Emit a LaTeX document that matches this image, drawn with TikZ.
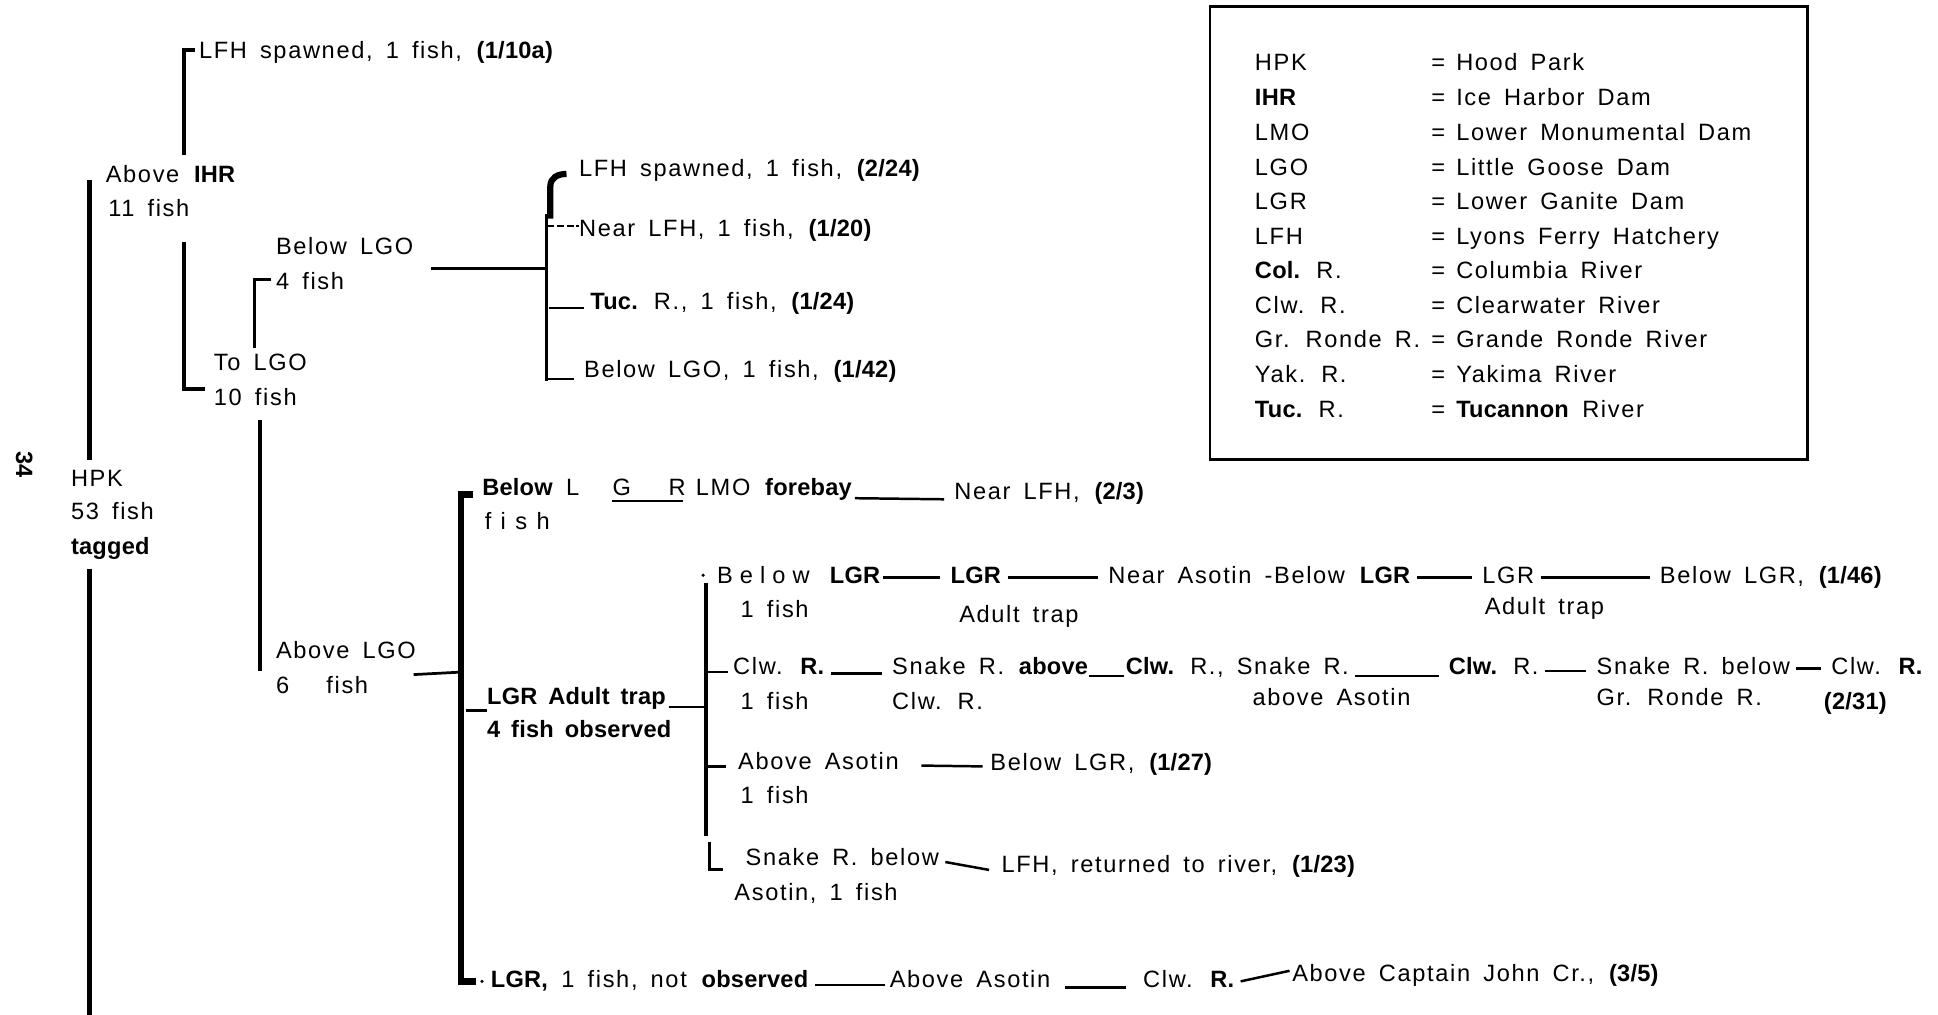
\documentclass[tikz,border=0pt]{standalone}
\usepackage{fontspec}
\setmainfont{Liberation Sans}[LetterSpace=7, WordSpace=1.6, BoldFeatures={LetterSpace=1}]
\begin{document}
\begin{tikzpicture}[x=1pt,y=-1pt,
  t/.style={anchor=west, inner sep=0pt, text height=14pt, text depth=4pt, font=\fontsize{19}{22}\selectfont},
  bar/.style={line width=3.5pt, line join=miter},
  tick/.style={line width=2.2pt},
  lk/.style={line width=2pt, shorten <=5pt, shorten >=8pt}]
\useasboundingbox (0,0) rectangle (1560,817);
% page number
\node[t, anchor=center, rotate=-90] (page) at (18,374) {\textbf{34}};
% root
\node[t] (hpk) at (57,387) {HPK};
\node[t] (hpkB) at (57,413) {53 fish};
\node[t] (hpkC) at (57,441) {\textbf{tagged}};
\node[t] (aihr) at (85,142) {Above \textbf{IHR}};
\node[t] (aihrB) at (87,169) {11 fish};
\node[t] (lfhA) at (160,42) {LFH spawned, 1 fish, \textbf{(1/10a)}};
\node[t] (tolgo) at (172,293) {To LGO};
\node[t] (tolgoB) at (172,321) {10 fish};
\node[t] (blgo) at (222,200) {Below LGO};
\node[t] (blgoB) at (222,228) {4 fish};
\node[t] (lfhB) at (466,137) {LFH spawned, 1 fish, \textbf{(2/24)}};
\node[t] (nlfh) at (466,185) {Near LFH, 1 fish, \textbf{(1/20)}};
\node[t] (tuc) at (475,244) {\textbf{Tuc.} R., 1 fish, \textbf{(1/24)}};
\node[t] (blgoC) at (470,299) {Below LGO, 1 fish, \textbf{(1/42)}};
\node[t] (algo) at (222,525) {Above LGO};
\node[t] (algoB) at (222,553) {6\hspace{30pt}fish};
% trunk lines
\coordinate (v0a) at (72,145); \coordinate (v0b) at (72,370);
\coordinate (v0c) at (72,458); \coordinate (v0d) at (72,817);
\draw[bar] (v0a) -- (v0b);
\draw[bar] (v0c) -- (v0d);
\coordinate (h1a) at (157,40); \coordinate (h1b) at (148,40); \coordinate (h1c) at (148,125);
\draw[bar] (h1a) -- (h1b) -- (h1c);
\coordinate (h2a) at (148,195); \coordinate (h2b) at (148,313); \coordinate (h2c) at (165,313);
\draw[bar] (h2a) -- (h2b) -- (h2c);
\coordinate (h3a) at (218,225); \coordinate (h3b) at (205,225); \coordinate (h3c) at (205,280);
\draw[bar, line width=2.6pt] (h3a) -- (h3b) -- (h3c);
\coordinate (br1) at (440,216);
\draw[tick] (347,216) -- (br1);
\coordinate (v1a) at (440,172); \coordinate (v1b) at (440,307);
\draw[bar, line width=3pt] (v1a) -- (v1b);
\coordinate (r1a) at (443,176); \coordinate (r1b) at (443,150); \coordinate (r1c) at (456,140);
\draw[line width=5pt] (r1a) -- (r1b) .. controls (443,143) and (449,140) .. (r1c);
\coordinate (tk1) at (440,182); \coordinate (tk2) at (442,248); \coordinate (tk3) at (440,305);
\draw[line width=2pt, dash pattern=on 6pt off 2pt] (tk1) -- (tk1 -| nlfh.west);
\draw[tick] (tk2) -- ([xshift=-5pt]tk2 -| tuc.west);
\draw[tick] (tk3) -- ([xshift=-8pt]tk3 -| blgoC.west);
\coordinate (v2a) at (209,338); \coordinate (v2b) at (209,540);
\draw[bar, line width=3pt] (v2a) -- (v2b);
\coordinate (j1) at (371,541);
\draw[tick] (333,543) -- (j1);
% main bracket from Above LGO
\coordinate (m1) at (381,398); \coordinate (m2) at (371,398); \coordinate (m3) at (371,790); \coordinate (m4) at (383,790);
\draw[line width=5pt] (m1) -- (m2) -- (m3) -- (m4);
\fill (388,790) circle (1.4pt);
% Below LGR LMO forebay
\node[t] (bla) at (388,394) {\textbf{Below} L};
\node[t] (blg) at (493,394) {G};
\node[t] (blr) at (538,394) {R};
\draw[line width=1.8pt] (493,403) -- (550,403);
\node[t] (blm) at (560,394) {LMO \textbf{forebay}};
\node[t] (blb) at (390,421) {\addfontfeature{LetterSpace=40}fish};
\node[t] (nlfh2) at (768,397) {Near LFH, \textbf{(2/3)}};
\draw[lk, shorten <=2pt] ([yshift=-7pt]blm.east) -- ([yshift=-5pt]nlfh2.west);
% LGR adult trap
\node[t] (lat) at (392,562) {\textbf{LGR Adult trap}};
\node[t] (latB) at (392,589) {\textbf{4 fish observed}};
\draw[tick] (375,572) -- (lat.west |- 0,572);
\coordinate (j2) at (568,569);
\draw[tick] ([xshift=2pt]lat.east |- j2) -- (j2);
\draw[bar, line width=3pt] (568,469) -- (568,673);
\draw[line width=3pt] (571,678) -- (571,700) -- (582,700);
\fill (566,463) circle (1.4pt);
% row 1
\node[t] (ra) at (577,465) {{\addfontfeature{LetterSpace=30}Below} \textbf{LGR}};
\node[t] (raB) at (596,492) {1 fish};
\node[t] (rb) at (765,465) {\textbf{LGR}};
\node[t] (rbB) at (772,496) {Adult trap};
\node[t] (rc) at (892,465) {Near Asotin -Below \textbf{LGR}};
\node[t] (rd) at (1193,465) {LGR};
\node[t] (rdB) at (1195,490) {Adult trap};
\node[t] (re) at (1336,465) {Below LGR, \textbf{(1/46)}};
\draw[lk, shorten <=2pt] (ra.east) -- (rb.west);
\draw[lk] (rb.east) -- (rc.west);
\draw[lk] (rc.east) -- (rd.west);
\draw[lk] (rd.east) -- (re.west);
% row 2
\draw[tick] (568,541) -- (586,541);
\node[t] (ca) at (590,538) {Clw. \textbf{R.}};
\node[t] (caB) at (596,566) {1 fish};
\node[t] (cb) at (718,538) {Snake R. \textbf{above}};
\node[t] (cbB) at (718,566) {Clw. R.};
\node[t] (cc) at (906,538) {\textbf{Clw.} R., Snake R.};
\node[t] (ccB) at (1008,563) {above Asotin};
\node[t] (cd) at (1166,538) {\textbf{Clw.} R.};
\node[t] (ce) at (1285,538) {Snake R. below};
\node[t] (ceB) at (1285,563) {Gr. Ronde R.};
\node[t] (cf) at (1474,538) {Clw. \textbf{R.}};
\node[t] (cfB) at (1468,566) {\textbf{(2/31)}};
\draw[lk] ([yshift=-4pt]ca.east) -- ([yshift=-4pt]cb.west);
\draw[lk, shorten <=0pt, shorten >=1pt] ([yshift=-6pt]cb.east) -- ([yshift=-6pt]cc.west);
\draw[lk] ([yshift=-6pt]cc.east) -- ([yshift=-6pt]cd.west);
\draw[lk] ([yshift=-2pt]cd.east) -- ([yshift=-2pt]ce.west);
\draw[lk] (ce.east) -- (cf.west);
% row 3
\draw[tick] (568,617) -- (584,617);
\node[t] (aa) at (594,614) {Above Asotin};
\node[t] (aaB) at (596,642) {1 fish};
\node[t] (ab) at (797,615) {Below LGR, \textbf{(1/27)}};
\draw[lk, shorten <=18pt, shorten >=6pt] ([yshift=-2pt]aa.east) -- ([yshift=-2pt]ab.west);
% row 4
\node[t] (sa) at (600,692) {Snake R. below};
\node[t] (saB) at (591,720) {Asotin, 1 fish};
\node[t] (sb) at (806,697) {LFH, returned to river, \textbf{(1/23)}};
\draw[lk, shorten >=10pt] ([yshift=-1pt]sa.east) -- ([yshift=-5pt]sb.west);
% bottom row
\node[t] (ba) at (395,790) {\textbf{LGR,} 1 fish, not \textbf{observed}};
\node[t] (bb) at (716,790) {Above Asotin};
\node[t] (bc) at (920,790) {Clw. \textbf{R.}};
\node[t] (bd) at (1040,785) {Above Captain John Cr., \textbf{(3/5)}};
\draw[lk, shorten >=4pt] ([yshift=-3pt]ba.east) -- ([yshift=-3pt]bb.west);
\draw[lk, shorten <=12pt, shorten >=14pt] ([yshift=-5pt]bb.east) -- ([yshift=-5pt]bc.west);
\draw[lk, shorten >=2pt] ([yshift=-1pt]bc.east) -- ([yshift=4pt]bd.west);
% legend
\coordinate (L1) at (974,5); \coordinate (L2) at (1455,370);
\draw[line width=2.2pt] (L1) rectangle (L2);
\foreach \y/\a/\b [count=\i] in {
  52/HPK/Hood Park,
  80/\textbf{IHR}/Ice Harbor Dam,
  108/LMO/Lower Monumental Dam,
  136/LGO/Little Goose Dam,
  164/LGR/Lower Ganite Dam,
  192/LFH/Lyons Ferry Hatchery,
  219/\textbf{Col.} R./Columbia River,
  247/Clw. R./Clearwater River,
  275/Gr. Ronde R./Grande Ronde River,
  303/Yak. R./Yakima River,
  331/\textbf{Tuc.} R./\textbf{Tucannon} River} {
  \node[t] (ka\i) at (1010,\y) {\a};
  \node[t] (ke\i) at (1152,\y) {=};
  \node[t] (kb\i) at (1172,\y) {\b};
}
\end{tikzpicture}
\end{document}
